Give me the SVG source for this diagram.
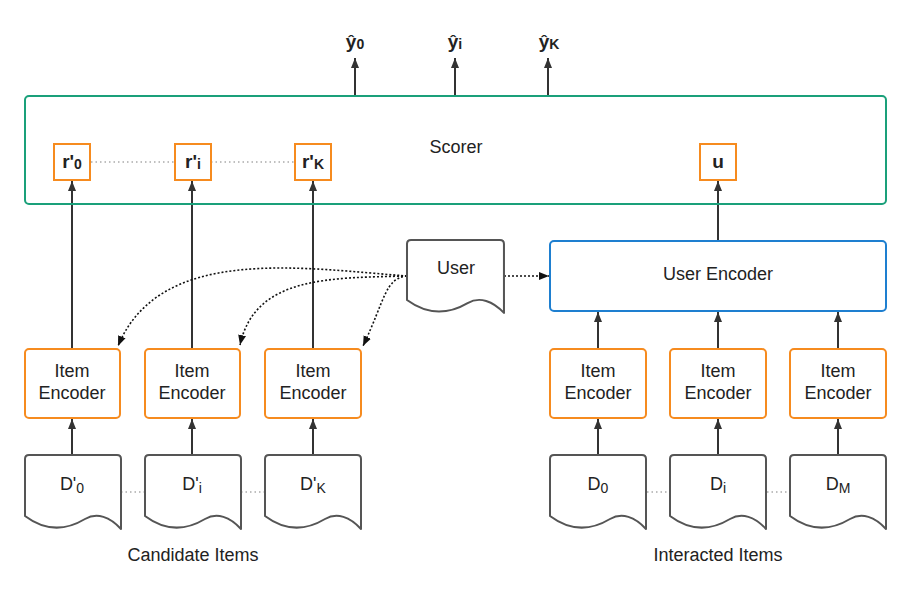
<svg xmlns="http://www.w3.org/2000/svg" width="911" height="600" viewBox="0 0 911 600">
<style>
text{font-family:"Liberation Sans",Arial,sans-serif;fill:#222;text-anchor:middle;dominant-baseline:central}
.t{font-size:18px}
.b{font-size:19px;font-weight:bold}
.sub{font-size:14px}
.enc{fill:#fff;stroke:#f68b1f;stroke-width:2}
.rb{fill:#fff;stroke:#f68b1f;stroke-width:2}
.doc{fill:#fff;stroke:#555;stroke-width:2;stroke-linejoin:round}
.ar{fill:none;stroke:#333;stroke-width:2}
.dot{fill:none;stroke:#111;stroke-width:1.6;stroke-dasharray:2 2}
.lt{fill:none;stroke:#aaa;stroke-width:1.5;stroke-dasharray:1.5 3}
</style>
<defs>
<marker id="ah" viewBox="0 0 10 10" refX="10" refY="5" markerWidth="10" markerHeight="10" markerUnits="userSpaceOnUse" orient="auto">
<path d="M0,1 L10,5 L0,9 Z" fill="#333"/>
</marker>
<marker id="ahd" viewBox="0 0 10 10" refX="10" refY="5" markerWidth="10" markerHeight="10" markerUnits="userSpaceOnUse" orient="auto">
<path d="M0,1 L10,5 L0,9 Z" fill="#111"/>
</marker>
<path id="docshape" d="M4,0 H92 Q96,0 96,4 V74 C85,62 72,57 60,64 C40,76 20,76 0,61 V4 Q0,0 4,0 Z"/>
</defs>

<g id="connectors">
<line class="ar" x1="355" y1="96" x2="355" y2="58" marker-end="url(#ah)"/>
<line class="ar" x1="455" y1="96" x2="455" y2="58" marker-end="url(#ah)"/>
<line class="ar" x1="548" y1="96" x2="548" y2="58" marker-end="url(#ah)"/>
<line class="lt" x1="91" y1="162" x2="174" y2="162"/>
<line class="lt" x1="211" y1="162" x2="294" y2="162"/>
<line class="ar" x1="72" y1="348" x2="72" y2="181" marker-end="url(#ah)"/>
<line class="ar" x1="192" y1="348" x2="192" y2="181" marker-end="url(#ah)"/>
<line class="ar" x1="313" y1="348" x2="313" y2="181" marker-end="url(#ah)"/>
<line class="ar" x1="718" y1="240" x2="718" y2="181" marker-end="url(#ah)"/>
<line class="ar" x1="72" y1="455" x2="72" y2="419" marker-end="url(#ah)"/>
<line class="ar" x1="192" y1="455" x2="192" y2="419" marker-end="url(#ah)"/>
<line class="ar" x1="313" y1="455" x2="313" y2="419" marker-end="url(#ah)"/>
<line class="ar" x1="598" y1="348" x2="598" y2="312" marker-end="url(#ah)"/>
<line class="ar" x1="718" y1="348" x2="718" y2="312" marker-end="url(#ah)"/>
<line class="ar" x1="838" y1="348" x2="838" y2="312" marker-end="url(#ah)"/>
<line class="ar" x1="598" y1="455" x2="598" y2="419" marker-end="url(#ah)"/>
<line class="ar" x1="718" y1="455" x2="718" y2="419" marker-end="url(#ah)"/>
<line class="ar" x1="838" y1="455" x2="838" y2="419" marker-end="url(#ah)"/>
<line class="lt" x1="121" y1="492" x2="145" y2="492"/>
<line class="lt" x1="241" y1="492" x2="265" y2="492"/>
<line class="lt" x1="647" y1="492" x2="670" y2="492"/>
<line class="lt" x1="767" y1="492" x2="790" y2="492"/>
<path class="dot" d="M407,276 C300,268 160,245 118,346" marker-end="url(#ahd)"/>
<path class="dot" d="M407,276 C330,278 255,276 240,345" marker-end="url(#ahd)"/>
<path class="dot" d="M407,276 C385,278 385,300 363,346" marker-end="url(#ahd)"/>
<line class="dot" x1="504" y1="276" x2="549" y2="276" marker-end="url(#ahd)"/>
</g>

<g id="outputs">
<text class="b" x="355" y="41">ŷ<tspan class="sub" dy="3">0</tspan></text>
<text class="b" x="455" y="41">ŷ<tspan class="sub" dy="3">i</tspan></text>
<text class="b" x="549" y="41">ŷ<tspan class="sub" dy="3">K</tspan></text>
</g>

<g id="scorer">
<rect x="25" y="96" width="861" height="108" rx="4" fill="none" stroke="#1aa07a" stroke-width="2"/>
<text class="t" x="456" y="147">Scorer</text>
</g>
<g id="r0"><rect class="rb" x="54" y="144" width="36" height="36"/><text class="b" x="72" y="161">r'<tspan class="sub" dy="3">0</tspan></text></g>
<g id="ri"><rect class="rb" x="175" y="144" width="36" height="36"/><text class="b" x="193" y="161">r'<tspan class="sub" dy="3">i</tspan></text></g>
<g id="rK"><rect class="rb" x="295" y="144" width="36" height="36"/><text class="b" x="313" y="161">r'<tspan class="sub" dy="3">K</tspan></text></g>
<g id="u"><rect class="rb" x="700" y="144" width="36" height="36"/><text class="b" x="718" y="161">u</text></g>

<g id="user"><use href="#docshape" class="doc" transform="translate(407,240) scale(1.01,0.985)"/><text class="t" x="456" y="268">User</text></g>
<g id="userEncoder"><rect x="550" y="241" width="336" height="70" rx="4" fill="#fff" stroke="#1e7fd0" stroke-width="2"/><text class="t" x="718" y="274">User Encoder</text></g>

<g id="ie0"><rect class="enc" x="25" y="349" width="95" height="69" rx="4"/><text class="t" x="72" y="371">Item</text><text class="t" x="72" y="393">Encoder</text></g>
<g id="iei"><rect class="enc" x="145" y="349" width="95" height="69" rx="4"/><text class="t" x="192" y="371">Item</text><text class="t" x="192" y="393">Encoder</text></g>
<g id="ieK"><rect class="enc" x="265" y="349" width="96" height="69" rx="4"/><text class="t" x="313" y="371">Item</text><text class="t" x="313" y="393">Encoder</text></g>
<g id="je0"><rect class="enc" x="550" y="349" width="96" height="69" rx="4"/><text class="t" x="598" y="371">Item</text><text class="t" x="598" y="393">Encoder</text></g>
<g id="jei"><rect class="enc" x="670" y="349" width="96" height="69" rx="4"/><text class="t" x="718" y="371">Item</text><text class="t" x="718" y="393">Encoder</text></g>
<g id="jeM"><rect class="enc" x="790" y="349" width="96" height="69" rx="4"/><text class="t" x="838" y="371">Item</text><text class="t" x="838" y="393">Encoder</text></g>

<g id="dc0"><use href="#docshape" class="doc" transform="translate(25,455)"/><text class="t" x="72" y="484">D'<tspan class="sub" dy="4">0</tspan></text></g>
<g id="dci"><use href="#docshape" class="doc" transform="translate(145,455)"/><text class="t" x="192" y="484">D'<tspan class="sub" dy="4">i</tspan></text></g>
<g id="dcK"><use href="#docshape" class="doc" transform="translate(265,455)"/><text class="t" x="313" y="484">D'<tspan class="sub" dy="4">K</tspan></text></g>
<g id="d0"><use href="#docshape" class="doc" transform="translate(550,455)"/><text class="t" x="598" y="484">D<tspan class="sub" dy="4">0</tspan></text></g>
<g id="di"><use href="#docshape" class="doc" transform="translate(670,455)"/><text class="t" x="718" y="484">D<tspan class="sub" dy="4">i</tspan></text></g>
<g id="dM"><use href="#docshape" class="doc" transform="translate(790,455)"/><text class="t" x="838" y="484">D<tspan class="sub" dy="4">M</tspan></text></g>

<g id="labels">
<text class="t" x="193" y="555" fill="#333">Candidate Items</text>
<text class="t" x="718" y="555" fill="#333">Interacted Items</text>
</g>
</svg>
